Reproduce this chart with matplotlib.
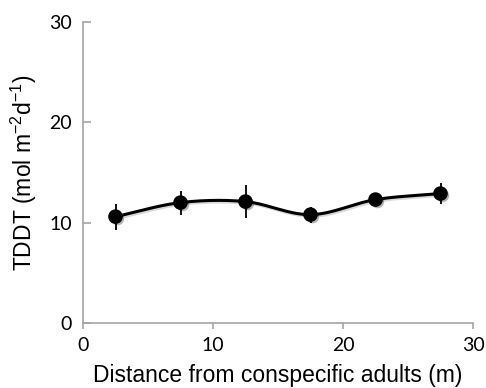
import numpy as np
import matplotlib
matplotlib.use("Agg")
import matplotlib.pyplot as plt
import matplotlib.patheffects as pe

distance = [2.5, 7.5, 12.5, 17.5, 22.5, 27.5]
tddt = [10.6, 12.0, 12.1, 10.8, 12.3, 12.9]
tddt_err = [1.3, 1.2, 1.65, 0.8, 0.4, 1.05]
x_ticks = [0, 10, 20, 30]
y_ticks = [0, 10, 20, 30]

plt.rcParams['font.family'] = ['Lato', 'DejaVu Sans']
plt.rcParams['mathtext.fontset'] = 'custom'
plt.rcParams['mathtext.rm'] = 'Liberation Sans'
plt.rcParams['mathtext.it'] = 'Liberation Sans'
plt.rcParams['mathtext.default'] = 'regular'

def catmull_rom(x, y, n=30):
    x = np.asarray(x, float); y = np.asarray(y, float)
    px = np.concatenate([[2*x[0]-x[1]], x, [2*x[-1]-x[-2]]])
    py = np.concatenate([[2*y[0]-y[1]], y, [2*y[-1]-y[-2]]])
    xs, ys = [], []
    t = np.linspace(0, 1, n)
    for i in range(1, len(px)-2):
        for p, out in ((px, xs), (py, ys)):
            p0, p1, p2, p3 = p[i-1], p[i], p[i+1], p[i+2]
            out.extend(0.5*((2*p1) + (-p0+p2)*t + (2*p0-5*p1+4*p2-p3)*t**2 + (-p0+3*p1-3*p2+p3)*t**3))
    return np.array(xs), np.array(ys)

fig = plt.figure(figsize=(4.86, 3.88), dpi=100)
ax = fig.add_axes([83/486, 1-323/388, 390/486, 301/388])

sx, sy = catmull_rom(distance, tddt)
shadow = [pe.SimpleLineShadow(offset=(1.2, -1.2), alpha=0.15), pe.Normal()]
ax.plot(sx, sy, color='black', lw=2.2, zorder=2, path_effects=shadow)
ax.errorbar(distance, tddt, yerr=tddt_err, fmt='none', ecolor='black', elinewidth=1.3, capsize=0, zorder=3)
ax.plot(distance, tddt, 'o', color='black', ms=9.5, zorder=4,
        path_effects=[pe.SimplePatchShadow(offset=(1.5, -1.5), alpha=0.3), pe.Normal()])

ax.set_xlim(0, 30)
ax.set_ylim(0, 30)
ax.set_xticks(x_ticks)
ax.set_yticks(y_ticks)
for s in ['top', 'right']:
    ax.spines[s].set_visible(False)
for s in ['left', 'bottom']:
    ax.spines[s].set_color('#a6a6a6')
    ax.spines[s].set_linewidth(1.2)
ax.tick_params(axis='y', direction='in', length=6, color='#a6a6a6', width=1.2, labelsize=14, pad=8)
ax.tick_params(axis='x', direction='out', length=4, color='#a6a6a6', width=1.2, labelsize=14, pad=6)
lab = dict(fontsize=16.5, family=['Liberation Sans', 'DejaVu Sans'])
ax.set_xlabel('Distance from conspecific adults (m)', labelpad=7, **lab)
ax.set_ylabel('TDDT (mol m$^{-2}$d$^{-1}$)', labelpad=7, **lab)
fig.savefig('out.png', dpi=100)
